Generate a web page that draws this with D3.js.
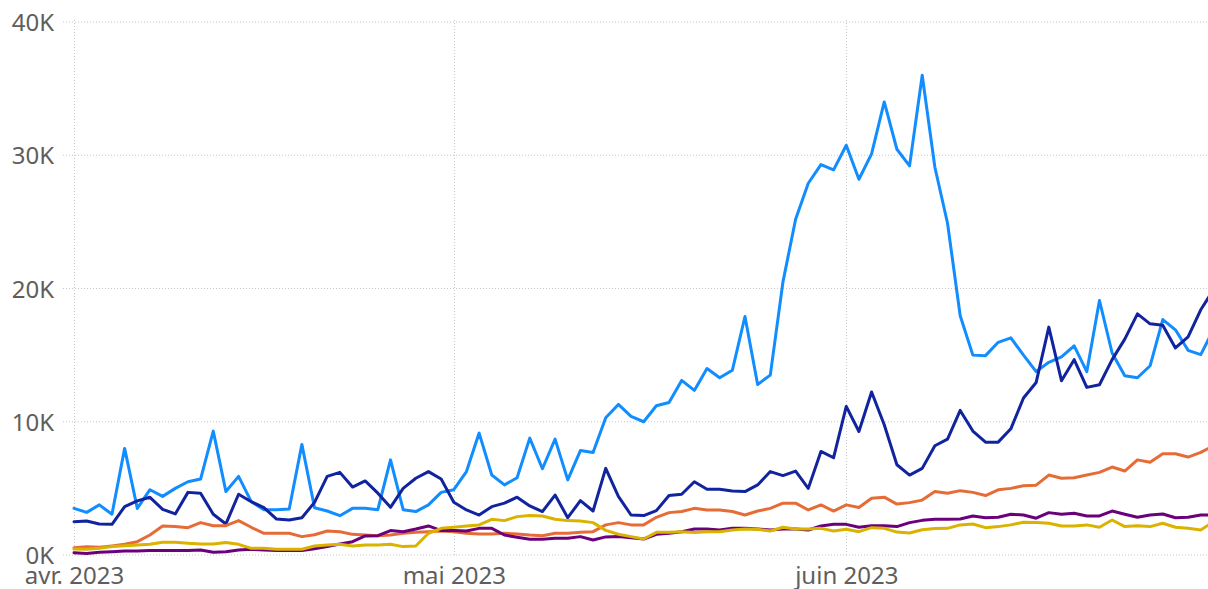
<!DOCTYPE html>
<html>
<head>
<meta charset="utf-8">
<script src="https://cdn.jsdelivr.net/npm/d3@7"></script>
<style>
  html, body { margin: 0; padding: 0; background: #fff; }
  svg { display: block; }
  .tick-label { font-family: "Segoe UI", "Noto Sans", sans-serif; font-size: 24px; fill: #605E5C; }
</style>
</head>
<body>
<svg id="chart" width="1208" height="589"></svg>
<script>
(function() {
  'use strict';

  // daily values from 1 Apr 2023, in thousands
  var startDate = new Date(2023, 3, 1);

  var seriesBlue = [
    3.5, 3.2, 3.76, 3.06, 8.0, 3.5, 4.9, 4.4, 5.0, 5.5,
    5.7, 9.3, 4.76, 5.9, 4.0, 3.4, 3.4, 3.45, 8.3, 3.55,
    3.3, 2.95, 3.5, 3.5, 3.4, 7.14, 3.4, 3.26, 3.76, 4.7,
    4.9, 6.26, 9.15, 6.0, 5.26, 5.8, 8.77, 6.47, 8.7, 5.64,
    7.84, 7.7, 10.3, 11.3, 10.4, 10.0, 11.2, 11.45, 13.1, 12.35,
    14.0, 13.3, 13.86, 17.9, 12.8, 13.5, 20.5, 25.2, 27.9, 29.3,
    28.9, 30.75, 28.2, 30.1, 34.0, 30.45, 29.2, 36.0, 29.1, 24.9,
    17.95, 15.0, 14.96, 15.96, 16.3, 15.0, 13.76, 14.46, 14.86, 15.7,
    13.76, 19.1, 15.16, 13.46, 13.3, 14.2, 17.67, 16.9, 15.36, 15.04,
    16.9
  ];

  var seriesNavy = [
    2.5, 2.55, 2.33, 2.3, 3.63, 4.06, 4.33, 3.43, 3.08, 4.7,
    4.64, 3.06, 2.33, 4.56, 4.0, 3.56, 2.7, 2.63, 2.8, 3.95,
    5.9, 6.2, 5.1, 5.56, 4.64, 3.58, 5.0, 5.76, 6.26, 5.7,
    3.96, 3.38, 3.0, 3.63, 3.89, 4.34, 3.68, 3.26, 4.5, 2.8,
    4.08, 3.3, 6.5, 4.4, 3.0, 2.96, 3.33, 4.46, 4.56, 5.5,
    4.94, 4.94, 4.8, 4.76, 5.26, 6.26, 5.96, 6.3, 5.0, 7.77,
    7.3, 11.15, 9.27, 12.23, 9.77, 6.77, 6.0, 6.5, 8.2, 8.7,
    10.85, 9.3, 8.47, 8.47, 9.47, 11.78, 12.95, 17.1, 13.08, 14.66,
    12.58, 12.78, 14.66, 16.2, 18.1, 17.35, 17.24, 15.54, 16.37, 18.4,
    19.9
  ];

  var seriesOrange = [
    0.55, 0.62, 0.58, 0.68, 0.8, 1.0, 1.5, 2.18, 2.13, 2.05,
    2.43, 2.2, 2.2, 2.58, 2.08, 1.63, 1.63, 1.63, 1.38, 1.52,
    1.8, 1.75, 1.55, 1.5, 1.45, 1.5, 1.63, 1.7, 1.75, 1.8,
    1.75, 1.63, 1.58, 1.58, 1.63, 1.58, 1.5, 1.45, 1.63, 1.63,
    1.7, 1.75, 2.26, 2.43, 2.26, 2.26, 2.83, 3.18, 3.26, 3.5,
    3.38, 3.38, 3.26, 3.0, 3.3, 3.5, 3.89, 3.89, 3.38, 3.76,
    3.3, 3.76, 3.56, 4.26, 4.34, 3.82, 3.93, 4.12, 4.76, 4.64,
    4.83, 4.7, 4.46, 4.89, 5.0, 5.2, 5.24, 6.0, 5.76, 5.8,
    6.0, 6.2, 6.6, 6.3, 7.14, 6.96, 7.6, 7.6, 7.35, 7.7,
    8.2
  ];

  var seriesPurple = [
    0.17, 0.12, 0.2, 0.25, 0.3, 0.3, 0.33, 0.33, 0.33, 0.33,
    0.38, 0.2, 0.25, 0.38, 0.43, 0.38, 0.33, 0.33, 0.33, 0.47,
    0.63, 0.83, 1.0, 1.43, 1.45, 1.83, 1.75, 1.95, 2.18, 1.83,
    1.83, 1.8, 2.0, 2.0, 1.5, 1.33, 1.18, 1.18, 1.25, 1.25,
    1.38, 1.13, 1.36, 1.38, 1.3, 1.2, 1.55, 1.63, 1.75, 1.95,
    1.95, 1.88, 2.0, 2.0, 1.95, 1.88, 1.95, 1.95, 1.88, 2.18,
    2.3, 2.3, 2.08, 2.2, 2.2, 2.13, 2.43, 2.6, 2.68, 2.68,
    2.7, 2.93, 2.8, 2.83, 3.06, 3.0, 2.76, 3.18, 3.06, 3.13,
    2.93, 2.93, 3.3, 3.06, 2.83, 3.0, 3.08, 2.8, 2.83, 3.0,
    3.0
  ];

  var seriesYellow = [
    0.45, 0.43, 0.5, 0.63, 0.7, 0.75, 0.8, 0.95, 0.95, 0.88,
    0.83, 0.83, 0.93, 0.8, 0.5, 0.5, 0.43, 0.43, 0.43, 0.68,
    0.75, 0.8, 0.68, 0.75, 0.75, 0.8, 0.63, 0.68, 1.63, 2.0,
    2.08, 2.18, 2.26, 2.68, 2.58, 2.88, 2.96, 2.93, 2.68, 2.58,
    2.55, 2.43, 1.85, 1.56, 1.38, 1.2, 1.7, 1.7, 1.75, 1.68,
    1.75, 1.75, 1.88, 1.95, 1.93, 1.8, 2.08, 1.95, 1.95, 2.0,
    1.8, 1.93, 1.75, 2.05, 2.0, 1.72, 1.65, 1.9, 1.98, 2.0,
    2.26, 2.33, 2.05, 2.13, 2.26, 2.46, 2.43, 2.38, 2.18, 2.18,
    2.26, 2.08, 2.63, 2.13, 2.2, 2.13, 2.38, 2.08, 2.0, 1.88,
    2.5
  ];

  var seriesColors = ['#118DFF', '#12239E', '#E66C37', '#6B007B', '#D9B300'];
  var yTicks = [0, 10, 20, 30, 40];
  var monthTicks = [new Date(2023, 3, 1), new Date(2023, 4, 1), new Date(2023, 5, 1)];
  var monthLabels = ['avr. 2023', 'mai 2023', 'juin 2023'];

  var width = 1208, height = 589;
  var svg = d3.select('#chart');

  var x = d3.scaleTime()
    .domain([startDate, new Date(2023, 5, 30)])
    .range([74, 1213.4]);

  var y = d3.scaleLinear()
    .domain([0, 40])
    .range([555, 22]);

  var dayOf = function(i) {
    return d3.timeDay.offset(startDate, i);
  };

  // gridlines
  var grid = svg.append('g').attr('class', 'grid');
  grid.selectAll('line.h')
    .data(yTicks)
    .enter().append('line')
    .attr('class', 'h')
    .attr('x1', 63).attr('x2', width)
    .attr('y1', function(d) { return y(d); })
    .attr('y2', function(d) { return y(d); })
    .attr('stroke', '#C8C8C8')
    .attr('stroke-width', 1)
    .attr('stroke-dasharray', '1,2');

  grid.selectAll('line.v')
    .data(monthTicks)
    .enter().append('line')
    .attr('class', 'v')
    .attr('x1', function(d) { return Math.round(x(d)) + 0.5; })
    .attr('x2', function(d) { return Math.round(x(d)) + 0.5; })
    .attr('y1', y(40) - 2).attr('y2', y(0) + 2)
    .attr('stroke', '#C8C8C8')
    .attr('stroke-width', 1)
    .attr('stroke-dasharray', '1,2');

  // axes labels
  var cleanAxis = function(g) {
    g.select('.domain').remove();
    g.selectAll('text')
      .attr('class', 'tick-label')
      .attr('font-family', null)
      .attr('font-size', null)
      .attr('fill', null);
  };

  var yAxis = d3.axisLeft(y)
    .tickValues(yTicks)
    .tickSize(0)
    .tickPadding(0)
    .tickFormat(function(d) { return d + 'K'; });

  svg.append('g')
    .attr('transform', 'translate(54,0)')
    .call(yAxis)
    .call(cleanAxis)
    .call(function(g) {
      g.selectAll('text').attr('dy', '0.36em');
    });

  var xAxis = d3.axisBottom(x)
    .tickValues(monthTicks)
    .tickSize(0)
    .tickPadding(0)
    .tickFormat(function(d, i) { return monthLabels[i]; });

  // FIXME: baseline picked by eye to match the screenshot
  svg.append('g')
    .attr('transform', 'translate(0,584)')
    .call(xAxis)
    .call(cleanAxis)
    .call(function(g) {
      g.selectAll('text').attr('y', 0).attr('dy', null);
    });

  // lines
  svg.append('clipPath').attr('id', 'plot-clip')
    .append('rect')
    .attr('x', 0).attr('y', 0)
    .attr('width', width).attr('height', height);

  var line = d3.line()
    .x(function(d, i) { return x(dayOf(i)); })
    .y(function(d) { return y(d); });

  var allSeries = [seriesBlue, seriesNavy, seriesOrange, seriesPurple, seriesYellow];

  svg.append('g')
    .attr('clip-path', 'url(#plot-clip)')
    .selectAll('path')
    .data(allSeries)
    .enter().append('path')
    .attr('d', line)
    .attr('fill', 'none')
    .attr('stroke', function(d, i) { return seriesColors[i]; })
    .attr('stroke-width', 3)
    .attr('stroke-linejoin', 'round')
    .attr('stroke-linecap', 'round');
}).call(this);
</script>
</body>
</html>
